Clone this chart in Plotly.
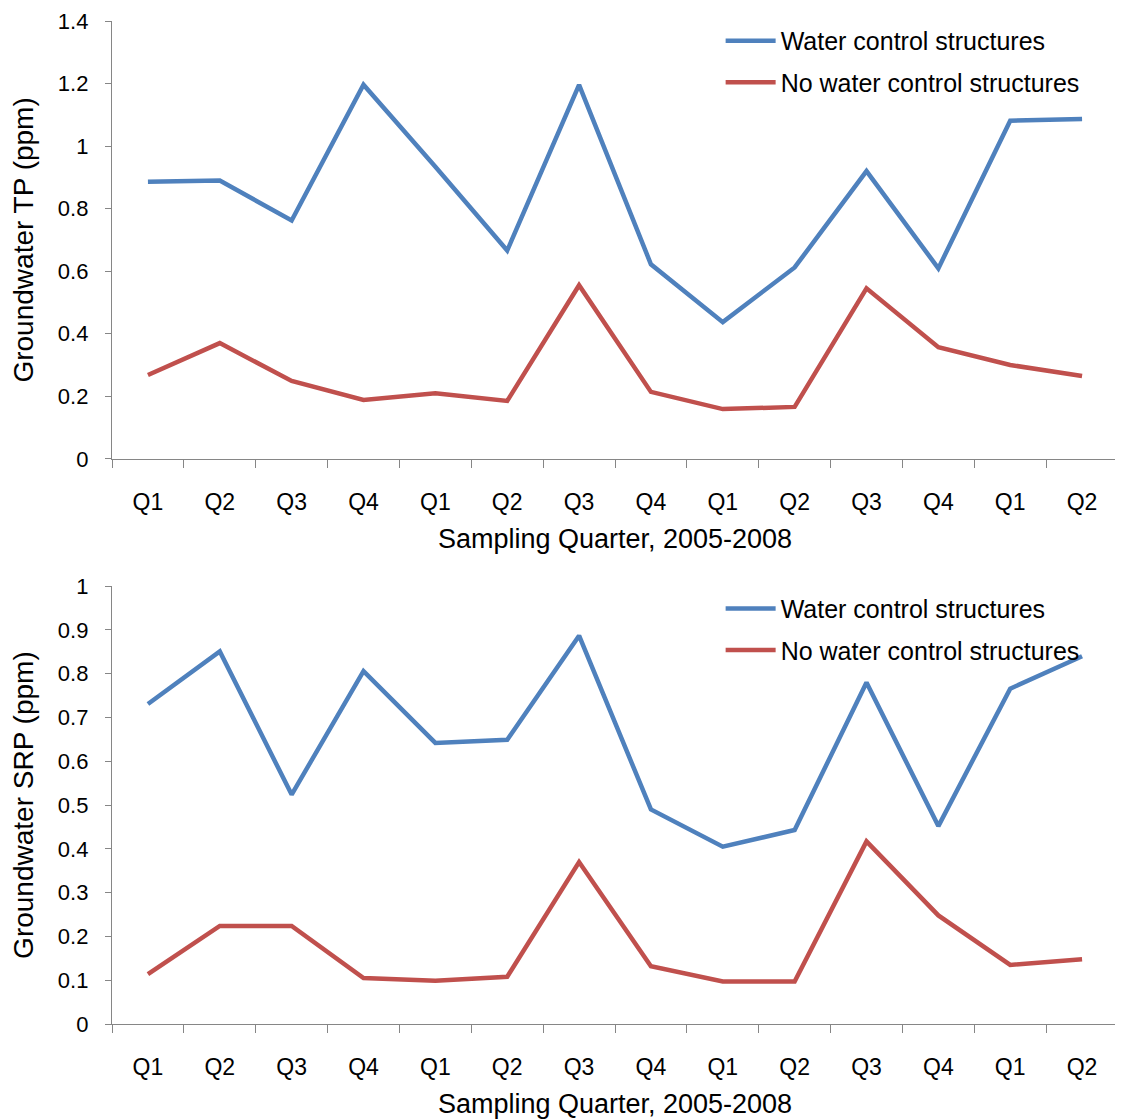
import plotly.graph_objects as go
from plotly.subplots import make_subplots

quarters = ["Q1", "Q2", "Q3", "Q4", "Q1", "Q2", "Q3", "Q4", "Q1", "Q2", "Q3", "Q4", "Q1", "Q2"]

tp_wcs = [0.886, 0.890, 0.762, 1.196, 0.934, 0.666, 1.196, 0.622, 0.437, 0.612, 0.920, 0.609, 1.081, 1.087]
tp_nowcs = [0.268, 0.370, 0.249, 0.188, 0.210, 0.185, 0.555, 0.214, 0.159, 0.166, 0.545, 0.357, 0.300, 0.265]

srp_wcs = [0.731, 0.851, 0.524, 0.806, 0.642, 0.649, 0.887, 0.490, 0.405, 0.443, 0.780, 0.452, 0.766, 0.840]
srp_nowcs = [0.114, 0.224, 0.224, 0.105, 0.099, 0.108, 0.370, 0.132, 0.097, 0.097, 0.417, 0.248, 0.135, 0.148]

series_names = ["Water control structures", "No water control structures"]
colors = ["#4F81BD", "#C0504D"]

x = list(range(len(quarters)))
boundaries = [i - 0.5 for i in range(len(quarters) + 1)]

FONT = "Liberation Sans, Arial, sans-serif"
AXIS_COLOR = "#868686"

fig = make_subplots(rows=2, cols=1, vertical_spacing=0.127)

for row, (a, b), leg in [(1, (tp_wcs, tp_nowcs), "legend"), (2, (srp_wcs, srp_nowcs), "legend2")]:
    for i, (vals, name, col) in enumerate(zip((a, b), series_names, colors)):
        fig.add_trace(
            go.Scatter(x=x, y=vals, mode="lines", name=name,
                       line=dict(color=col, width=4.5),
                       legend=leg, legendgroup=f"{leg}{i}"),
            row=row, col=1)

for row in (1, 2):
    fig.update_xaxes(
        row=row, col=1,
        range=[-0.5, len(quarters) - 0.5],
        tickmode="array", tickvals=x, ticktext=quarters,
        ticks="", ticklabelstandoff=22,
        showline=True, linecolor=AXIS_COLOR, linewidth=1.3,
        showgrid=False, zeroline=False, automargin=False,
        tickfont=dict(family=FONT, size=23, color="#000000"),
        title=dict(text="Sampling Quarter, 2005-2008", standoff=15,
                   font=dict(family=FONT, size=27, color="#000000")),
        minor=dict(tickmode="array", tickvals=boundaries, ticks="outside",
                   ticklen=8, tickcolor=AXIS_COLOR, tickwidth=1.3, showgrid=False),
    )

fig.update_yaxes(row=1, col=1, range=[0, 1.4], tickvals=[0, 0.2, 0.4, 0.6, 0.8, 1.0, 1.2, 1.4],
                 ticktext=["0", "0.2", "0.4", "0.6", "0.8", "1", "1.2", "1.4"],
                 title=dict(text="Groundwater TP (ppm)", standoff=29,
                            font=dict(family=FONT, size=28, color="#000000")))
fig.update_yaxes(row=2, col=1, range=[0, 1.0], tickvals=[i / 10 for i in range(11)],
                 ticktext=["0", "0.1", "0.2", "0.3", "0.4", "0.5", "0.6", "0.7", "0.8", "0.9", "1"],
                 title=dict(text="Groundwater SRP (ppm)", standoff=29,
                            font=dict(family=FONT, size=28, color="#000000")))
fig.update_yaxes(showline=True, linecolor=AXIS_COLOR, linewidth=1.3,
                 ticks="outside", ticklen=6, tickcolor=AXIS_COLOR, tickwidth=1.3,
                 ticklabelstandoff=12, automargin=False, ticklabeloverflow="allow",
                 showgrid=False, zeroline=False,
                 tickfont=dict(family=FONT, size=22, color="#000000"))

leg_common = dict(bgcolor="rgba(0,0,0,0)", borderwidth=0, tracegroupgap=6,
                  font=dict(family=FONT, size=25, color="#000000"),
                  xanchor="left", yanchor="top", itemwidth=50)
fig.update_layout(
    width=1115, height=1112,
    margin=dict(l=104, r=5, t=13, b=96),
    paper_bgcolor="white", plot_bgcolor="white",
    showlegend=True,
    legend=dict(x=0.605, y=1.003, **leg_common),
    legend2=dict(x=0.605, y=0.437, **leg_common),
)

fig.write_html("out.html")
